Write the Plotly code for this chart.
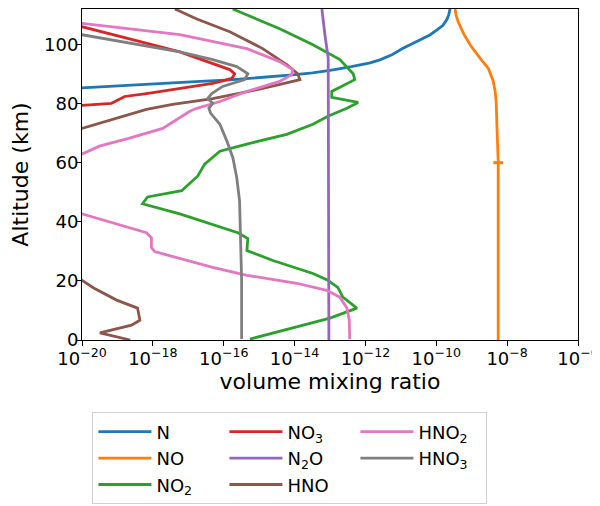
import plotly.graph_objects as go

# ---------------- data (altitude km, volume mixing ratio) ----------------
n_alt = [84.0, 85.4, 86.0, 86.7, 87.4, 88.0, 88.8, 89.7, 90.4, 91.2, 92.5, 93.8, 94.8,
         96.5, 98.7, 101.0, 103.2, 105.0, 106.5, 108.5, 110.0, 112.0]
n_vmr = [1e-22, 1e-20, 1e-19, 1.6e-18, 1.6e-17, 1.48e-16, 1.26e-15, 8.9e-15, 3.2e-14, 1e-13,
         4e-13, 1.35e-12, 2.57e-12, 5.6e-12, 1.15e-11, 2.8e-11, 6.6e-11, 1.07e-10,
         1.55e-10, 2.0e-10, 2.24e-10, 2.45e-10]

no_alt = [0.0, 20.0, 40.0, 60.5, 69.5, 75.0, 80.7, 84.0, 87.5, 90.0, 91.9, 95.3, 99.8,
          103.5, 107.6, 110.0, 112.0]
no_vmr = [5.6e-9, 5.6e-9, 5.6e-9, 5.6e-9, 5.25e-9, 5.1e-9, 4.9e-9, 4.6e-9, 4.07e-9, 3.4e-9,
          2.95e-9, 1.74e-9, 9.1e-10, 6.0e-10, 4.17e-10, 3.6e-10, 3.4e-10]
no_mark_alt = [60.0]
no_mark_vmr = [5.6e-9]

no2_alt = [0.3, 4.0, 7.4, 10.8, 14.5, 17.8, 20.2, 22.5, 26.9, 30.3, 34.3, 36.3, 42.7,
           46.1, 48.4, 50.5, 53.8, 55.5, 59.5, 61.6, 63.9, 66.3, 69.6, 73.0, 75.7,
           78.4, 80.4, 82.1, 84.1, 88.1, 90.1, 94.9, 99.9, 105.3, 109.3, 112.0]
no2_vmr = [5.5e-16, 8.9e-15, 1e-13, 5.75e-13, 2.3e-13, 1.66e-13, 8.7e-14, 3.3e-14,
           2.45e-15, 4.5e-16, 4.8e-16, 2.5e-16, 5.75e-18, 5.1e-19, 7.1e-19, 6.5e-18,
           1.32e-17, 1.86e-17, 2.9e-17, 4.6e-17, 7.8e-17, 4.5e-16, 6.0e-15, 3.3e-14,
           8.7e-14, 3.0e-13, 6.2e-13, 1.12e-13, 1.12e-13, 5.0e-13, 4.5e-13, 1.9e-13,
           3.3e-14, 3.8e-15, 6.6e-16, 1.8e-16]

no3_alt = [78.0, 79.4, 80.1, 81.4, 82.4, 83.4, 85.1, 86.8, 88.5, 90.1, 91.5, 93.5,
           97.5, 101.9, 106.0, 107.5]
no3_vmr = [1e-21, 1e-20, 6.8e-20, 1.15e-19, 1.6e-19, 6.6e-19, 5.75e-18, 4.9e-17,
           1.7e-16, 2.04e-16, 1.48e-16, 4.9e-17, 5.75e-18, 2.2e-19, 1e-20, 1e-21]

n2o_alt = [0.0, 86.4, 90.0, 95.3, 103.2, 112.0]
n2o_vmr = [9.3e-14, 9.3e-14, 9.2e-14, 8.9e-14, 7.2e-14, 5.9e-14]

hno_alt = [0.0, 2.4, 5.0, 6.7, 10.8, 13.5, 17.5, 20.2, 21.5, 70.0, 71.6, 74.7, 78.0,
           79.7, 81.7, 85.1, 88.1, 90.1, 93.2, 98.6, 104.3, 108.6, 112.0]
hno_vmr = [2.3e-19, 3.2e-20, 2.5e-19, 4.3e-19, 3.7e-19, 9.5e-20, 2.2e-20, 1e-20, 1e-22,
           1e-22, 1e-20, 7.2e-20, 6.6e-19, 3.6e-18, 4.9e-17, 1.26e-15, 1.41e-14,
           1.23e-14, 6.0e-15, 1.26e-15, 1.48e-16, 1.74e-17, 4.2e-18]

hno2_alt = [0.3, 6.7, 10.8, 14.5, 16.8, 19.2, 21.9, 24.6, 29.9, 31.3, 34.6, 36.3, 42.7,
            44.0, 61.5, 62.9, 65.6, 68.3, 71.6, 77.4, 78.4, 80.7, 84.1, 87.5, 89.8,
            91.5, 94.2, 98.6, 103.3, 107.1, 108.5]
hno2_vmr = [3.6e-13, 3.5e-13, 3.0e-13, 1.9e-13, 8.1e-14, 1.15e-14, 4.5e-16, 4.9e-17,
            1.12e-18, 9.1e-19, 9.1e-19, 6.6e-19, 1e-20, 1e-22, 1e-22, 1e-20, 3.1e-20,
            2.2e-19, 1.9e-18, 1.1e-17, 1.74e-17, 7.8e-17, 4.5e-16, 3.8e-15, 8.3e-15,
            8.9e-15, 3.8e-15, 4.5e-16, 5.75e-18, 1e-20, 1e-21]

hno3_alt = [0.3, 20.2, 47.1, 54.8, 61.6, 67.3, 73.0, 76.7, 78.4, 80.1, 81.7, 83.4,
            85.8, 88.1, 90.1, 92.5, 94.9, 97.5, 103.3, 105.0]
hno3_vmr = [3.2e-16, 3.2e-16, 2.8e-16, 2.34e-16, 1.82e-16, 1.23e-16, 7.8e-17, 4.3e-17,
            3.8e-17, 4.9e-17, 3.5e-17, 4.6e-17, 9.3e-17, 3.9e-16, 4.8e-16, 2.34e-16,
            4.9e-17, 5.75e-18, 1e-20, 1e-21]

x_tickvals = [1e-20, 1e-18, 1e-16, 1e-14, 1e-12, 1e-10, 1e-8, 1e-6]
x_ticktext = ["10<sup>\u221220</sup>", "10<sup>\u221218</sup>", "10<sup>\u221216</sup>",
              "10<sup>\u221214</sup>", "10<sup>\u221212</sup>", "10<sup>\u221210</sup>",
              "10<sup>\u22128</sup>", "10<sup>\u22126</sup>"]
y_tickvals = [0, 20, 40, 60, 80, 100]

series = [
    ("N", n_vmr, n_alt, "#1f77b4", 1),
    ("NO", no_vmr, no_alt, "#ff7f0e", 4),
    ("NO<sub>2</sub>", no2_vmr, no2_alt, "#2ca02c", 7),
    ("NO<sub>3</sub>", no3_vmr, no3_alt, "#d62728", 2),
    ("N<sub>2</sub>O", n2o_vmr, n2o_alt, "#9467bd", 5),
    ("HNO", hno_vmr, hno_alt, "#8c564b", 8),
    ("HNO<sub>2</sub>", hno2_vmr, hno2_alt, "#e377c2", 3),
    ("HNO<sub>3</sub>", hno3_vmr, hno3_alt, "#7f7f7f", 6),
]

FONT = "DejaVu Sans"
fig = go.Figure()
for name, xv, yv, col, rank in series:
    fig.add_trace(go.Scatter(x=xv, y=yv, mode="lines", name=name,
                             line=dict(color=col, width=2.8), legendrank=rank))
fig.add_trace(go.Scatter(x=no_mark_vmr, y=no_mark_alt, mode="markers", showlegend=False,
                         marker=dict(symbol="line-ew", size=7, color="#ff7f0e",
                                     line=dict(color="#ff7f0e", width=3))))

fig.update_layout(
    width=600, height=506,
    margin=dict(l=74, r=30, t=1, b=174, autoexpand=False),
    paper_bgcolor="white", plot_bgcolor="white",
    font=dict(family=FONT, size=18, color="black"),
    showlegend=True,
    legend=dict(orientation="h", x=0.021, y=-0.219, xanchor="left", yanchor="top",
                entrywidth=63, itemwidth=53,
                font=dict(family=FONT, size=18, color="black"),
                bordercolor="#d0d0d0", borderwidth=1, bgcolor="white",
                traceorder="normal"),
)
fig.update_xaxes(type="log", range=[-20, -6], tickmode="array", tickvals=x_tickvals,
                 ticktext=x_ticktext, ticks="outside", ticklen=5, tickwidth=1,
                 tickcolor="black", showline=True, linecolor="black", linewidth=1,
                 mirror=True, showgrid=False, zeroline=False, automargin=False,
                 ticklabelstandoff=-3,
                 title=dict(text="volume mixing ratio", standoff=2),
                 tickfont=dict(size=18))
fig.update_yaxes(range=[0, 112], tickmode="array", tickvals=y_tickvals, ticks="outside",
                 ticklen=5, tickwidth=1, tickcolor="black", showline=True,
                 linecolor="black", linewidth=1, mirror=True, showgrid=False,
                 zeroline=False, automargin=False, ticklabelstandoff=-6,
                 title=dict(text="Altitude (km)", standoff=13),
                 tickfont=dict(size=18))

fig.write_html("out.html")
